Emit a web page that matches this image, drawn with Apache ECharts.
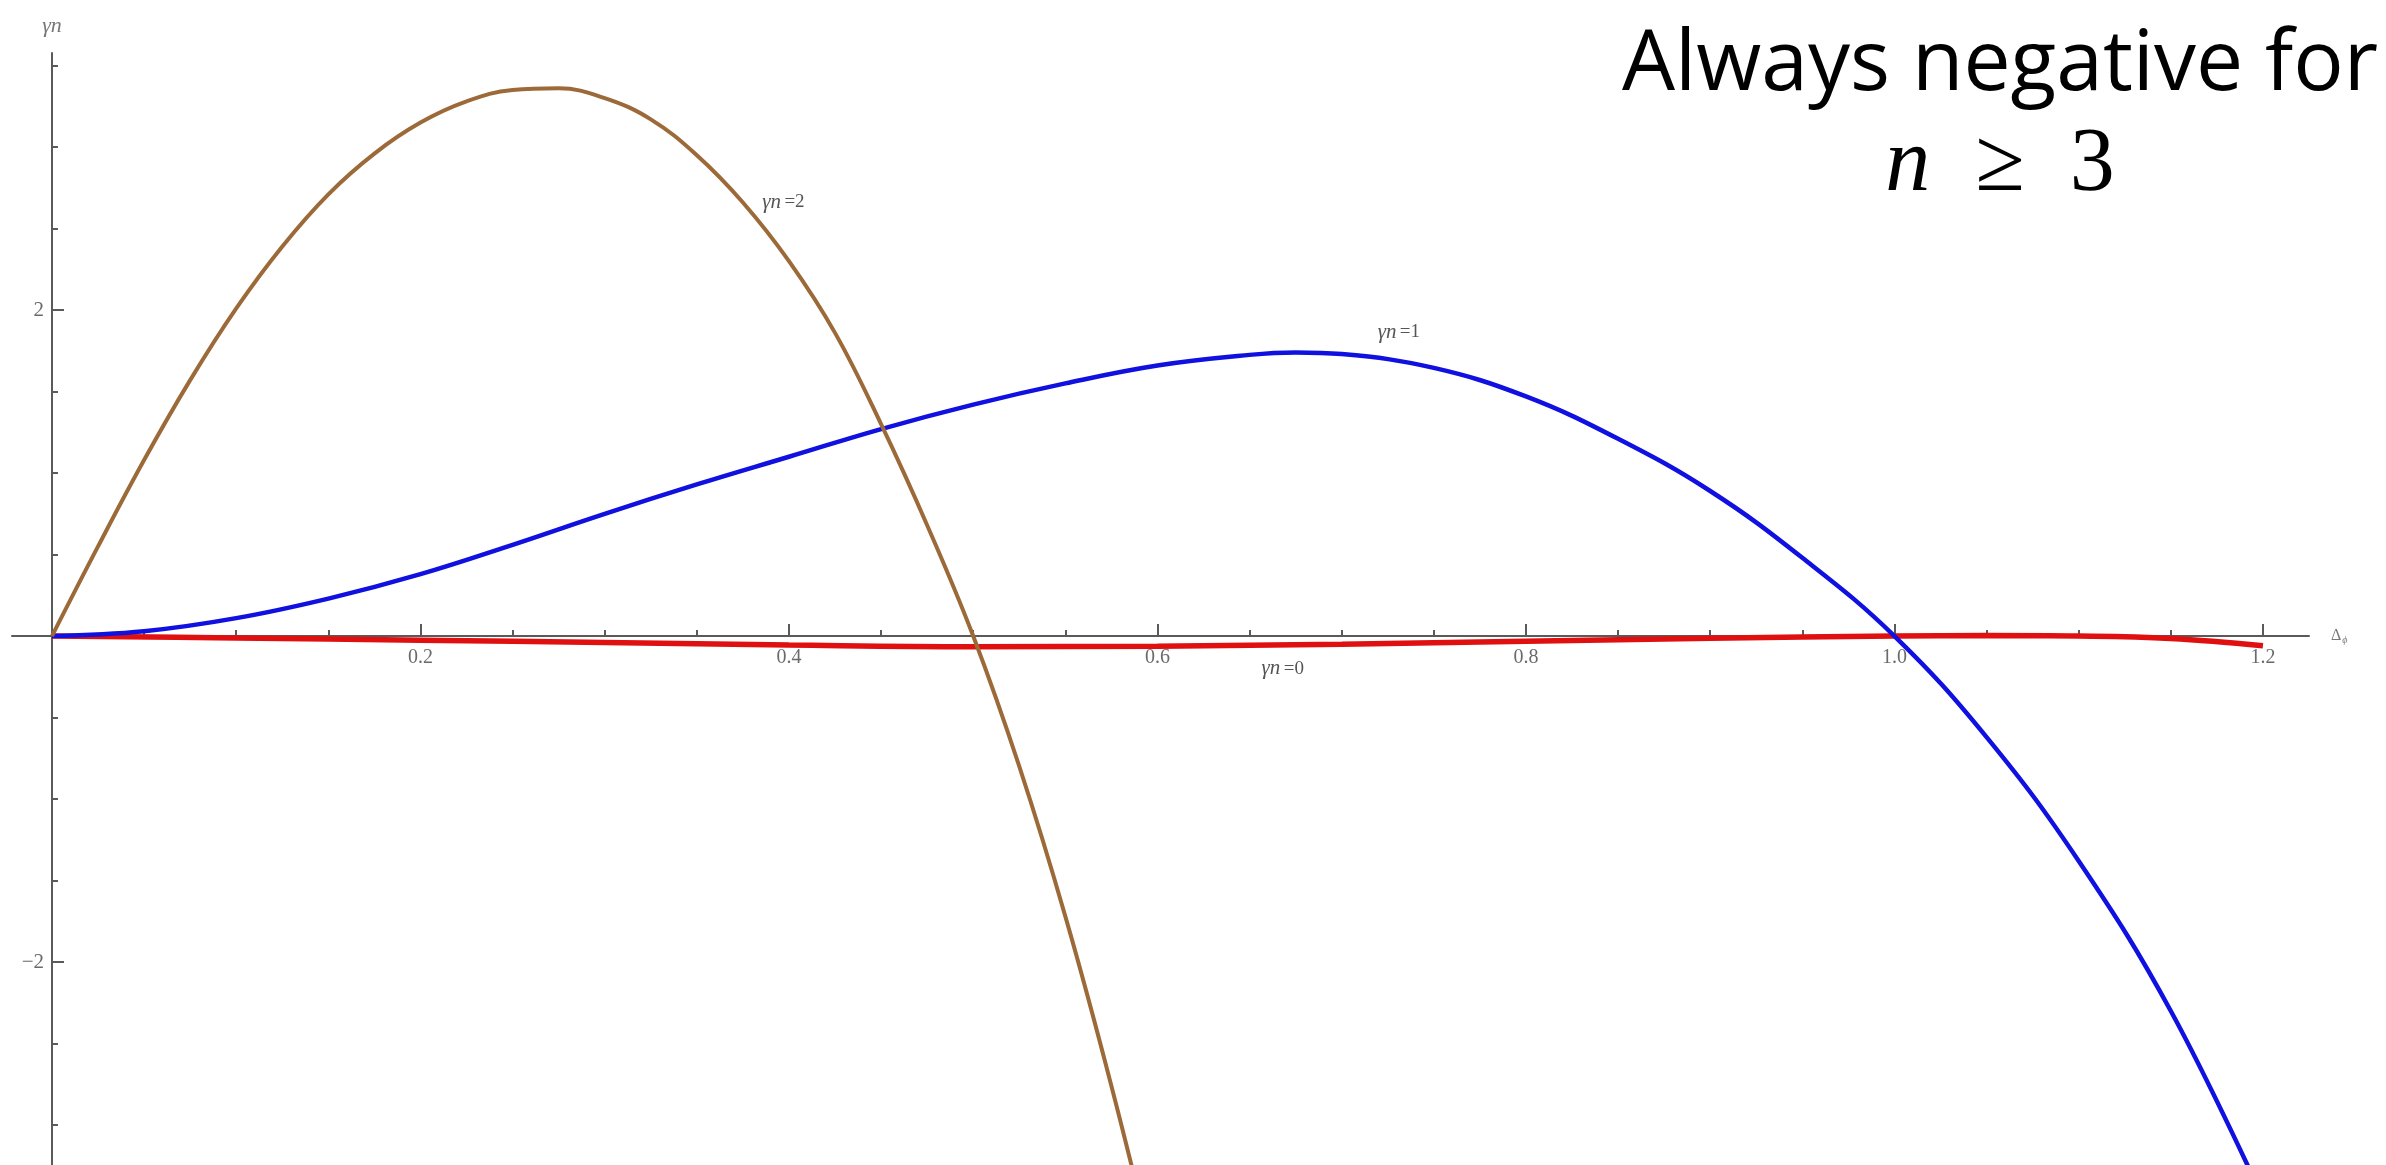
<!DOCTYPE html>
<html>
<head>
<meta charset="utf-8">
<script src="https://cdn.jsdelivr.net/npm/echarts@6/dist/echarts.min.js"></script>
<style>
  html, body { margin: 0; padding: 0; background: #ffffff; }
  #chart { width: 2386px; height: 1165px; }
</style>
</head>
<body>
<div id="chart"></div>
<script>
// Growth rate γn against Δφ for the lowest modes n = 0, 1, 2
const deltaN0 = [0, 0.1, 0.2, 0.3, 0.4, 0.5, 0.6, 0.7, 0.8, 0.9, 1.0, 1.05, 1.1, 1.15, 1.2];
const gammaN0 = [0, -0.012, -0.025, -0.04, -0.055, -0.065, -0.062, -0.05, -0.032, -0.014, 0, 0.003, 0, -0.015, -0.06];

const deltaN1 = [0, 0.05, 0.1, 0.15, 0.2, 0.25, 0.3, 0.35, 0.4, 0.45, 0.5, 0.55, 0.6, 0.65, 0.675, 0.7, 0.75, 0.8, 0.85, 0.9, 0.95, 1.0, 1.05, 1.1, 1.15, 1.2];
const gammaN1 = [0, 0.03, 0.11, 0.23, 0.38, 0.56, 0.75, 0.93, 1.10, 1.27, 1.42, 1.55, 1.66, 1.725, 1.74, 1.73, 1.645, 1.47, 1.21, 0.89, 0.48, 0, -0.62, -1.38, -2.3, -3.45];

const deltaN2 = [0, 0.025, 0.05, 0.075, 0.1, 0.125, 0.15, 0.175, 0.2, 0.225, 0.25, 0.275, 0.3, 0.325, 0.35, 0.375, 0.4, 0.425, 0.45, 0.475, 0.5, 0.525, 0.55, 0.575, 0.6];
const gammaN2 = [0, 0.55, 1.08, 1.57, 2.01, 2.39, 2.71, 2.96, 3.15, 3.28, 3.35, 3.36, 3.30, 3.17, 2.95, 2.66, 2.30, 1.86, 1.30, 0.68, 0, -0.80, -1.72, -2.76, -3.9];

// Axis ticks and their labels
const xMajorTicks = [0.2, 0.4, 0.6, 0.8, 1.0, 1.2];
const xTickLabels = ['0.2', '0.4', '0.6', '0.8', '1.0', '1.2'];
const xMinorTicks = [0.05, 0.1, 0.15, 0.25, 0.3, 0.35, 0.45, 0.5, 0.55, 0.65, 0.7, 0.75, 0.85, 0.9, 0.95, 1.05, 1.1, 1.15];
const yMajorTicks = [-2, 2];
const yTickLabels = ['\u22122', '2'];
const yMinorTicks = [-3, -2.5, -1.5, -1, -0.5, 0.5, 1, 1.5, 2.5, 3, 3.5];

// Curve tags, placed in data units next to each curve
const curveTags = [
  { n: '0', at: [0.668, -0.20] },
  { n: '1', at: [0.731, 1.865] },
  { n: '2', at: [0.397, 2.66] }
];

// Visible axis extents
const xRange = [-0.0217, 1.225];
const yRange = [-3.245, 3.577];

const pairs = (xs, ys) => xs.map((x, i) => [x, ys[i]]);

const AXIS_COLOR = '#5a5a5a';
const TEXT_COLOR = '#454545';
const SERIF = 'Liberation Serif';

function tagPoint(tag) {
  return {
    symbol: 'circle',
    symbolSize: 0,
    silent: true,
    label: {
      show: true,
      position: 'inside',
      formatter: '{i|γn} {r|=' + tag.n + '}',
      rich: {
        i: { fontFamily: SERIF, fontStyle: 'italic', fontSize: 21, color: '#555' },
        r: { fontFamily: SERIF, fontSize: 19, color: '#555' }
      }
    },
    data: [{ coord: tag.at, value: tag.n }]
  };
}

function axisBase(range, tickValues, tickLength, showLine) {
  return {
    type: 'value',
    min: range[0],
    max: range[1],
    splitLine: { show: false },
    axisLabel: { show: false },
    axisLine: { show: showLine, onZero: true, onZeroAxisIndex: 0, lineStyle: { color: AXIS_COLOR, width: 2 } },
    axisTick: { show: true, inside: true, length: tickLength, customValues: tickValues, lineStyle: { color: AXIS_COLOR, width: 2 } }
  };
}

// Text that rides along the axes: tick labels and axis names
function textSeries(name, points, position, distance, style) {
  return {
    name: name,
    type: 'scatter',
    silent: true,
    clip: false,
    symbolSize: 0,
    z: 5,
    data: points,
    label: Object.assign({
      show: true,
      position: position,
      distance: distance,
      formatter: p => p.name,
      fontFamily: SERIF,
      color: TEXT_COLOR
    }, style)
  };
}

function curveSeries(name, xs, ys, color, width, tag) {
  return {
    name: name,
    type: 'line',
    data: pairs(xs, ys),
    smooth: 0.4,
    showSymbol: false,
    clip: true,
    lineStyle: { color: color, width: width },
    markPoint: tagPoint(tag)
  };
}

const chart = echarts.init(document.getElementById('chart'), null, { renderer: 'canvas' });

chart.setOption({
  animation: false,
  backgroundColor: '#ffffff',
  grid: { left: 12, right: 77, top: 53, bottom: 0, containLabel: false, outerBoundsMode: 'none' },
  xAxis: [
    Object.assign(axisBase(xRange, xMajorTicks, 12, true), { position: 'bottom' }),
    Object.assign(axisBase(xRange, xMinorTicks, 6, false), { position: 'bottom' })
  ],
  yAxis: [
    Object.assign(axisBase(yRange, yMajorTicks, 12, true), { position: 'left' }),
    Object.assign(axisBase(yRange, yMinorTicks, 6, false), { position: 'left' })
  ],
  series: [
    curveSeries('n=0', deltaN0, gammaN0, '#e01010', 5.5, curveTags[0]),
    curveSeries('n=1', deltaN1, gammaN1, '#1010e0', 4.5, curveTags[1]),
    curveSeries('n=2', deltaN2, gammaN2, '#9c6a38', 4, curveTags[2]),
    textSeries('x tick labels',
      xMajorTicks.map((v, i) => ({ value: [v, 0], name: xTickLabels[i] })),
      'bottom', 12, { fontSize: 20 }),
    textSeries('y tick labels',
      yMajorTicks.map((v, i) => ({ value: [0, v], name: yTickLabels[i] })),
      'left', 8, { fontSize: 21 }),
    textSeries('y name',
      [{ value: [0, yRange[1]], name: 'γn' }],
      'top', 16, { fontSize: 22, fontStyle: 'italic', color: '#555' }),
    textSeries('x name',
      [{ value: [xRange[1], 0], name: '{d|Δ}{s|ϕ}' }],
      'right', 22, {
        rich: {
          d: { fontFamily: SERIF, fontSize: 16, color: '#555' },
          s: { fontFamily: SERIF, fontStyle: 'italic', fontSize: 10, color: '#555', padding: [9, 0, 0, 1] }
        }
      })
  ],
  graphic: [
    {
      type: 'text',
      x: 2000,
      y: 66,
      style: {
        text: 'Always negative for',
        font: '84px "Open Sans"',
        fill: '#000',
        align: 'center',
        verticalAlign: 'middle',
        textAlign: 'center',
        textVerticalAlign: 'middle'
      }
    },
    {
      type: 'text',
      x: 2000,
      y: 166,
      style: {
        text: '{n|n}{g|  ≥  }{t|3}',
        align: 'center',
        verticalAlign: 'middle',
        textAlign: 'center',
        textVerticalAlign: 'middle',
        rich: {
          n: { fontFamily: SERIF, fontStyle: 'italic', fontSize: 90, fill: '#000' },
          g: { fontFamily: SERIF, fontSize: 90, fill: '#000' },
          t: { fontFamily: SERIF, fontSize: 90, fill: '#000' }
        }
      }
    }
  ]
});
</script>
</body>
</html>
